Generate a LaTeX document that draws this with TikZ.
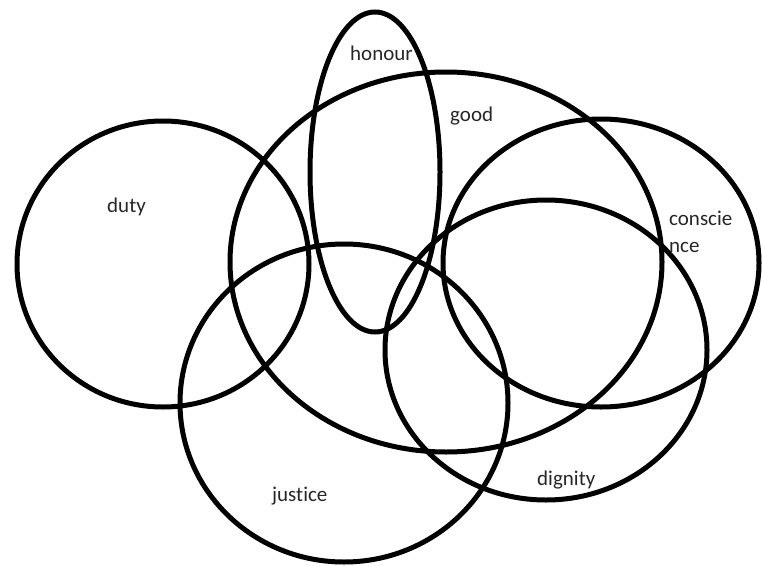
\documentclass[tikz,border=0pt]{standalone}
\usepackage{fontspec}
\setmainfont{Carlito}[RawFeature=-liga]
\begin{document}
\begin{tikzpicture}[x=1pt,y=-1pt,
  ring/.style={draw=black,line width=5pt},
  lbl/.style={anchor=base west,inner sep=0pt,font=\fontsize{21}{24}\selectfont,text=black!85}]
\useasboundingbox (0,0) rectangle (763,565);
\draw[ring] (163,264) ellipse [x radius=146, y radius=143];
\draw[ring] (446,262) ellipse [x radius=216, y radius=190];
\draw[ring] (375,172) ellipse [x radius=65, y radius=160];
\draw[ring] (601,263) ellipse [x radius=158, y radius=144];
\draw[ring] (546,350) ellipse [x radius=161, y radius=150];
\draw[ring] (344,403) ellipse [x radius=164, y radius=159];
\node[lbl] (honour) at (350,60) {honour};
\node[lbl] (good) at (450,121) {good};
\node[lbl] (duty) at (107,212) {duty};
\node[lbl] (consc) at (669,225) {conscie};
\node[lbl] (nce) at (669,252) {nce};
\node[lbl] (justice) at (272,501) {justice};
\node[lbl] (dignity) at (537,485) {dignity};
\end{tikzpicture}
\end{document}
